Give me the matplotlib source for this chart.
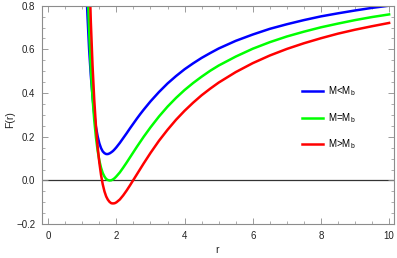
"""F(r) for three mass cases, Mathematica-style framed plot. Saves out.png."""

import matplotlib
matplotlib.use("Agg")
import matplotlib.pyplot as plt
from matplotlib.ticker import MultipleLocator

plt.rcParams["font.family"] = ["Liberation Sans", "DejaVu Sans"]
plt.rcParams["mathtext.default"] = "regular"

# values
R = [1.10, 1.15, 1.20, 1.25, 1.30, 1.35, 1.40, 1.45, 1.50, 1.55, 1.60, 1.65,
     1.70, 1.75, 1.80, 1.85, 1.90, 1.95, 2.00, 2.10, 2.20, 2.30, 2.40, 2.50,
     2.60, 2.70, 2.80, 3.00, 3.25, 3.50, 3.75, 4.00, 4.25, 4.50, 4.75, 5.00,
     5.50, 6.00, 6.50, 7.00, 7.50, 8.00, 8.50, 9.00, 9.50, 10.0]

F_LESS = [0.960, 0.760, 0.600, 0.480, 0.385, 0.305, 0.245, 0.202, 0.170, 0.148,
          0.133, 0.125, 0.121, 0.121, 0.124, 0.129, 0.135, 0.143, 0.152, 0.172,
          0.194, 0.216, 0.239, 0.261, 0.283, 0.304, 0.324, 0.362, 0.405, 0.444,
          0.478, 0.509, 0.536, 0.561, 0.583, 0.604, 0.639, 0.668, 0.694, 0.715,
          0.734, 0.751, 0.765, 0.778, 0.790, 0.800]

F_EQUAL = [1.208, 0.914, 0.688, 0.513, 0.379, 0.276, 0.197, 0.136, 0.091, 0.058,
           0.034, 0.018, 0.007, 0.002, 0.000, 0.001, 0.005, 0.011, 0.019, 0.037,
           0.059, 0.082, 0.106, 0.130, 0.154, 0.177, 0.200, 0.243, 0.293, 0.338,
           0.378, 0.414, 0.446, 0.475, 0.502, 0.526, 0.567, 0.603, 0.633, 0.659,
           0.681, 0.701, 0.718, 0.734, 0.748, 0.760]

F_MORE = [1.733, 1.310, 0.982, 0.726, 0.527, 0.371, 0.249, 0.155, 0.081, 0.025,
          -0.018, -0.050, -0.073, -0.088, -0.098, -0.104, -0.105, -0.104, -0.100,
          -0.087, -0.068, -0.046, -0.022, 0.003, 0.028, 0.053, 0.078, 0.126,
          0.182, 0.232, 0.278, 0.319, 0.356, 0.390, 0.420, 0.448, 0.496, 0.537,
          0.572, 0.602, 0.628, 0.651, 0.672, 0.690, 0.706, 0.721]

LABELS = [r"M<M$_b$", r"M=M$_b$", r"M>M$_b$"]
COLORS = ["#0000ff", "#00ff00", "#ff0000"]

FRAME = "#8c8c8c"
TEXT = "#222222"

fig = plt.figure(figsize=(3.97, 2.58), dpi=100)
ax = fig.add_axes([0.106, 0.131, 0.887, 0.847])

for vals, lab, col in zip([F_LESS, F_EQUAL, F_MORE], LABELS, COLORS):
    ax.plot(R, vals, color=col, lw=1.8, label=lab, solid_joinstyle="round")

ax.axhline(0, color="#333333", lw=0.9, zorder=1)

ax.set_xlim(-0.18, 10.15)
ax.set_ylim(-0.2, 0.8)
ax.xaxis.set_major_locator(MultipleLocator(2))
ax.xaxis.set_minor_locator(MultipleLocator(0.5))
ax.yaxis.set_major_locator(MultipleLocator(0.2))
ax.yaxis.set_minor_locator(MultipleLocator(0.05))
ax.yaxis.set_major_formatter(lambda v, p: f"{v:.1f}".replace("-", "\u2212"))

for s in ax.spines.values():
    s.set_color(FRAME)
    s.set_linewidth(0.8)
ax.tick_params(which="both", direction="in", top=True, right=True,
               color=FRAME, labelsize=7, labelcolor=TEXT)
ax.tick_params(which="major", length=4, width=0.6, pad=5)
ax.tick_params(which="minor", length=2.2, width=0.5)

xl = ax.set_xlabel("r", fontsize=7.5, color=TEXT, va="center")
yl = ax.set_ylabel("F(r)", fontsize=7.5, color=TEXT, va="center")
ax.xaxis.set_label_coords(0.497, -0.118)
ax.yaxis.set_label_coords(-0.091, 0.48)

ax.legend(loc="upper left", bbox_to_anchor=(0.761, 0.672),
          bbox_transform=fig.transFigure, frameon=False, fontsize=7,
          handlelength=2.1, handletextpad=0.6, labelspacing=1.3,
          borderpad=0, borderaxespad=0)

fig.savefig("out.png", dpi=100)
